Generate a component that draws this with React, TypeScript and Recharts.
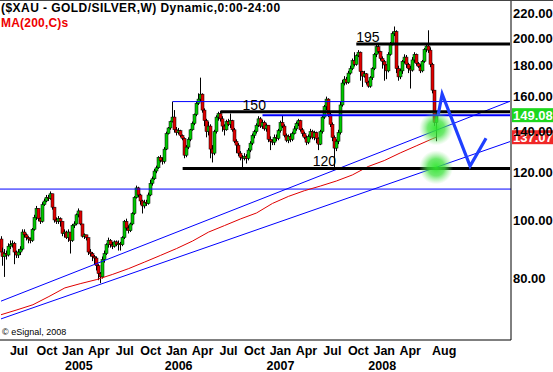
import React from "react";
import {
  ComposedChart,
  Bar,
  Line,
  XAxis,
  YAxis,
  ReferenceLine,
  ReferenceDot,
} from "recharts";

const FONT = '"Liberation Sans", Arial, Helvetica, sans-serif';
const SLOTS = 256; // weekly slots incl. empty space on the right
const Y_MIN = 63.3;
const Y_MAX = 231.2;

// weekly candles (open = previous close)
const FIRST_OPEN = 93;
const closes = [
  88.5, 87, 88, 87.5, 90.5, 91, 91.5, 88.5, 87.5, 88.5,
  89.5, 95.5, 94.5, 93.5, 93, 92.5, 96.5, 101, 104.5, 100.5,
  99.5, 106, 107.5, 109, 108.5, 110.5, 105, 100, 99.5, 100.5,
  99.5, 95, 95.5, 93.5, 95.5, 92.5, 98, 98.5, 102, 103.5,
  98.5, 94, 94.5, 93.5, 88.5, 88, 87, 86.5, 84, 81.5,
  80.5, 86, 88, 91, 92.5, 91, 90.5, 92, 91, 91.5,
  91, 93.5, 99.5, 97, 96, 98.5, 102.5, 109, 113, 110,
  107.5, 105.5, 107, 106.5, 110, 115, 117, 120.5, 122, 127,
  125.5, 125, 131, 139, 142, 145.5, 148, 141, 139.5, 140.5,
  138, 136.5, 128, 132, 136, 141, 144.5, 149.5, 156, 158.5,
  161.5, 152, 146, 140, 143, 131, 129, 140, 148, 150,
  147, 143, 141, 145.5, 144, 146, 141, 135, 133, 129,
  127, 126.5, 127.5, 126.5, 130.5, 134, 138, 140, 143.5, 147,
  143, 145, 141.5, 143.5, 136, 135, 134.5, 137, 136.5, 140.5,
  145, 143, 138, 135.5, 137.5, 136, 139, 141.5, 144.5, 146,
  141, 139, 137, 134.5, 137.5, 140, 137, 139.5, 136.5, 133.5,
  140, 148, 154, 158.5, 149.5, 144, 137, 131.5, 135, 139.5,
  155, 168.5, 171, 169, 175, 178, 183.5, 181, 187, 189.5,
  176, 173, 174.5, 169, 166.5, 172, 178, 188, 193.5, 190,
  185, 183, 180.5, 176.5, 188, 196, 203.5, 205, 178, 172.5,
  176.5, 183, 186, 181, 178, 177, 184, 188, 181.5, 179.5,
  176.5, 183, 191.5, 194, 191, 181, 164, 145, 149.08,
];
const highs = [
  94, 90, 89.5, 89, 91.5, 92.5, 92.5, 92, 89, 89.5,
  90.5, 96.5, 96.5, 95, 94, 93.5, 97, 102, 105.5, 104.5,
  101, 107, 108.5, 110, 110, 111.5, 110.5, 105, 101, 101.5,
  101, 99.5, 96.5, 96, 96.5, 95.5, 98.5, 99.5, 102.5, 104.5,
  103.5, 98.5, 95, 94.5, 93.5, 89.5, 88.5, 87.5, 87, 84.5,
  82, 87, 89, 91.5, 93.5, 93, 92, 92.5, 92.5, 92.5,
  92, 94, 100, 100.5, 98, 99, 103, 109.5, 114, 113.5,
  110.5, 108, 108, 108, 111, 116.5, 118, 121.5, 123, 127.5,
  128, 127, 132, 140, 142.5, 146, 157, 152, 142.5, 142,
  141, 138.5, 137, 133, 137, 141.5, 145.5, 150, 157, 162,
  172, 162, 153, 147, 145.5, 144, 133, 141, 149, 151,
  151.5, 148.5, 144, 146.5, 147, 150, 146.5, 142, 136, 134,
  130, 128, 129, 128.5, 131.5, 135, 139, 141, 144.5, 148.5,
  148, 146.5, 146, 144.5, 143.5, 137.5, 136, 138.5, 138.5, 141.5,
  146, 149, 144, 139, 138.5, 139, 140, 143, 145.5, 147,
  146.5, 142, 140, 138, 138.5, 141.5, 141, 140.5, 140, 137,
  141, 149, 155, 160, 159, 150.5, 145, 138, 136, 141,
  157, 170.5, 173, 172.5, 176.5, 180, 185, 189.5, 188, 191,
  190, 176.5, 176.5, 175, 170, 173, 179, 189, 195.5, 196,
  190.5, 186.5, 184, 181, 189.5, 197, 205, 209, 206, 180,
  178, 184, 188, 187.5, 182, 180, 186, 189.5, 188.5, 182.5,
  181, 184, 192.5, 196, 206, 193, 182, 164, 151,
];
const lows = [
  88, 84, 80.5, 86, 87, 89.5, 90, 84.5, 86.5, 86.5,
  87.5, 89, 93.5, 92.5, 91.5, 91.5, 92, 96, 100, 99.5,
  98.5, 99, 105.5, 107, 107.5, 108, 104, 99, 98.5, 98.5,
  97.5, 94, 93.5, 93, 92, 88, 92, 97, 98, 101,
  98, 93.5, 93, 92.5, 87.5, 87, 85.5, 84.5, 82.5, 79.5,
  78.6, 80, 85, 87.5, 90, 90, 89.5, 90, 90.5, 89,
  89, 90.5, 93, 96, 95, 95.5, 98, 102, 108.5, 109,
  106, 102.5, 104.5, 105.5, 106, 109.5, 114, 116.5, 119.5, 121.5,
  124.5, 123.5, 124, 130.5, 138.5, 141, 145, 139.5, 138, 138.5,
  137, 135.5, 126.5, 127, 131, 135, 140.5, 143.5, 148.5, 155,
  157, 150.5, 143, 137, 138, 126.5, 124.5, 128, 139, 146,
  145.5, 140, 138, 140.5, 143, 142, 140, 134, 129, 127.5,
  125.5, 122, 125.5, 124, 125.5, 129.5, 133, 136.5, 139, 142.5,
  142, 141.5, 140.5, 140, 134.5, 130.5, 133, 133, 135, 135.5,
  139.5, 142, 137, 134.5, 134, 134.5, 135, 138.5, 140.5, 143,
  140, 137.5, 136, 133, 133.5, 136, 136, 135.5, 134, 130.5,
  133, 139, 147, 152, 148, 142.5, 135, 121.5, 130, 133.5,
  138.5, 154, 167, 167.5, 168, 174, 177, 179.5, 180, 186,
  170, 166, 172, 167.5, 165.5, 165.5, 170.5, 177, 186, 188.5,
  183.5, 178, 170, 171, 175.5, 187, 194.5, 201.5, 175, 170,
  171, 174.5, 181.5, 178.5, 175, 165, 176, 182, 180, 178.5,
  175, 175.5, 182, 189.5, 189, 179, 162, 143, 135,
];

// MA(200) read at every 8th week
const maWeeks = [0, 8, 16, 24, 32, 40, 48, 56, 64, 72, 80, 88, 96, 104, 112, 120, 128, 136, 144, 152, 160, 168, 176, 184, 192, 200, 208, 216, 218];
const maValues = [69.7, 71.0, 72.4, 74.7, 77.2, 78.5, 79.7, 81.3, 83.1, 85.2, 87.4, 89.7, 92.3, 95.5, 97.9, 100.4, 102.7, 106.5, 109.4, 111.8, 113.8, 116.0, 118.7, 122.6, 125.4, 129.1, 132.6, 136.2, 137.08];

// hand-drawn projection zigzag
const projWeeks = [219, 221, 235, 243];
const projValues = [149.2, 161.6, 122.8, 136.5];

// trend channel (value at first and last slot)
const upperTrend = [73.4, 157.2];
const lowerTrend = [68.6, 134.8];
const supportLine = 112.5;

// thin blue resistance + last-price line
const blueLevelStart = [86, 131];
const blueLevelValue = [157, 149.08];

// thick black levels with their captions
const levelStart = [178, 110, 91];
const levelValue = [195.5, 151, 121.7];
const levelText = ["195", "150", "120"];

// glow markers
const glowWeek = 218;
const glowValues = [141.8, 122.2];

const LAST_CLOSE = 149.08;
const LAST_MA = 137.077;

const priceTicks = [80, 100, 120, 140, 160, 180, 200, 220];
const monthWeeks = [9, 23, 36, 49, 62, 75, 88, 101, 114, 127, 140, 153, 166, 179, 192, 205, 222];
const monthNames = ["Jul", "Oct", "Jan", "Apr", "Jul", "Oct", "Jan", "Apr", "Jul", "Oct", "Jan", "Apr", "Jul", "Oct", "Jan", "Apr", "Aug"];
const yearWeeks = [39, 89, 140, 191];
const yearNames = ["2005", "2006", "2007", "2008"];

const data = Array.from({ length: SLOTS }, (_, i) => {
  const row: any = { i };
  if (i < closes.length) {
    row.o = i === 0 ? FIRST_OPEN : closes[i - 1];
    row.c = closes[i];
    row.h = highs[i];
    row.l = lows[i];
    row.hl = [lows[i], highs[i]];
  }
  const m = maWeeks.indexOf(i);
  if (m >= 0) row.ma = maValues[m];
  const p = projWeeks.indexOf(i);
  if (p >= 0) row.proj = projValues[p];
  return row;
});

const Candle = (props: any) => {
  const { x, y, width, height, payload } = props;
  if (!payload || payload.h == null) return null;
  const cx = Math.floor(x + width / 2) + 0.5;
  const lh = Math.log(payload.h);
  const ll = Math.log(payload.l);
  // position inside the high-low range on the log axis
  const py = (v: number) =>
    lh === ll ? y : y + (height * (lh - Math.log(v))) / (lh - ll);
  const top = py(Math.max(payload.o, payload.c));
  const bot = py(Math.min(payload.o, payload.c));
  const up = payload.c >= payload.o;
  return (
    <g>
      <line x1={cx} x2={cx} y1={y} y2={y + height} stroke="#000" strokeWidth={1} />
      <rect
        x={cx - 1.5}
        y={top}
        width={3}
        height={Math.max(1, bot - top)}
        fill={up ? "#00c800" : "#e00000"}
        stroke="#000"
        strokeWidth={0.5}
      />
    </g>
  );
};

const Glow = (props: any) => (
  <g>
    <defs>
      <radialGradient id="glowFill">
        <stop offset="0%" stopColor="#2ee62e" stopOpacity={0.95} />
        <stop offset="50%" stopColor="#3ee23e" stopOpacity={0.75} />
        <stop offset="100%" stopColor="#7de87d" stopOpacity={0} />
      </radialGradient>
    </defs>
    <circle cx={props.cx} cy={props.cy} r={17} fill="url(#glowFill)" />
  </g>
);

const MonthTick = (props: any) => {
  const { x, y, payload } = props;
  const mi = monthWeeks.indexOf(payload.value);
  const yi = yearWeeks.indexOf(payload.value);
  if (mi < 0 && yi < 0) return null;
  return (
    <g fontFamily={FONT} fontWeight="bold" fill="#000">
      {mi >= 0 && (
        <text x={x} y={y + 15} textAnchor="middle" fontSize={12.5}>
          {monthNames[mi]}
        </text>
      )}
      {yi >= 0 && (
        <text x={x} y={y + 30} textAnchor="middle" fontSize={12.5}>
          {yearNames[yi]}
        </text>
      )}
    </g>
  );
};

const PriceTick = (props: any) => {
  const { x, y, payload } = props;
  return (
    <text x={x} y={y} dy="0.36em" textAnchor="start" fontFamily={FONT} fontWeight="bold" fontSize={13} fill="#000">
      {Number(payload.value).toFixed(2)}
    </text>
  );
};

const priceTag = (fill: string, text: string) => (p: any) => {
  const vb = p.viewBox || {};
  const x = vb.x + vb.width + 1;
  const y = vb.y;
  return (
    <g>
      <rect x={x} y={y - 7} width={44} height={14} fill={fill} />
      <text x={x + 1} y={y} dy="0.36em" fontFamily={FONT} fontWeight="bold" fontSize={13} fill="#fff">
        {text}
      </text>
    </g>
  );
};

const LEVEL_LABEL_DX = [0, 22, 130];

const levelLabel = (k: number) => (p: any) => {
  const vb = p.viewBox || {};
  return (
    <text x={vb.x + LEVEL_LABEL_DX[k]} y={vb.y - 2} fontFamily={FONT} fontSize={14} fill="#000">
      {levelText[k]}
    </text>
  );
};

export default function App() {
  return (
    <div
      style={{
        position: "absolute",
        left: 0,
        top: 0,
        width: 553,
        height: 372,
        background: "#fff",
        overflow: "hidden",
      }}
    >
      <ComposedChart
        width={553}
        height={372}
        data={data}
        margin={{ top: 0, right: 0, bottom: 0, left: 0 }}
        barCategoryGap={0}
      >
        <XAxis
          dataKey="i"
          type="category"
          interval={0}
          height={32}
          tickLine={false}
          tickSize={0}
          tickMargin={0}
          axisLine={{ stroke: "#000" }}
          tick={<MonthTick />}
        />
        <YAxis
          orientation="right"
          width={42}
          type="number"
          scale="log"
          domain={[Y_MIN, Y_MAX]}
          allowDataOverflow
          ticks={priceTicks}
          tickLine={false}
          tickSize={0}
          tickMargin={2}
          axisLine={{ stroke: "#000" }}
          tick={<PriceTick />}
        />

        {glowValues.map((v, k) => (
          <ReferenceDot key={`g${k}`} x={glowWeek} y={v} r={17} shape={Glow} />
        ))}

        <ReferenceLine y={supportLine} stroke="#0000ff" strokeWidth={1} />
        <ReferenceLine
          segment={[{ x: 0, y: upperTrend[0] }, { x: SLOTS - 1, y: upperTrend[1] }]}
          stroke="#0000ff"
          strokeWidth={1}
        />
        <ReferenceLine
          segment={[{ x: 0, y: lowerTrend[0] }, { x: SLOTS - 1, y: lowerTrend[1] }]}
          stroke="#0000ff"
          strokeWidth={1}
        />
        {blueLevelStart.map((s, k) => (
          <ReferenceLine
            key={`b${k}`}
            segment={[{ x: s, y: blueLevelValue[k] }, { x: SLOTS - 1, y: blueLevelValue[k] }]}
            stroke="#0000ff"
            strokeWidth={k === 1 ? 2 : 1}
          />
        ))}

        <Line
          dataKey="ma"
          stroke="#e00000"
          strokeWidth={1}
          dot={false}
          connectNulls
          isAnimationActive={false}
        />
        <Bar dataKey="hl" shape={Candle} isAnimationActive={false} />

        {levelStart.map((s, k) => (
          <ReferenceLine
            key={`l${k}`}
            segment={[{ x: s, y: levelValue[k] }, { x: SLOTS - 1, y: levelValue[k] }]}
            stroke="#000"
            strokeWidth={3}
            label={{ content: levelLabel(k) }}
          />
        ))}

        <Line
          dataKey="proj"
          stroke="#1f3fff"
          strokeWidth={3.2}
          strokeLinejoin="miter"
          dot={false}
          connectNulls
          isAnimationActive={false}
        />

        <ReferenceLine y={LAST_CLOSE} stroke="none" label={{ content: priceTag("#1cd81c", "149.08") }} />
        <ReferenceLine y={LAST_MA} stroke="none" label={{ content: priceTag("#f02828", "137.077") }} />
      </ComposedChart>

      <div style={{ position: "absolute", left: 0, top: 0, width: 553, height: 1, background: "#444" }} />
      <div
        style={{
          position: "absolute",
          left: 1,
          top: 1,
          fontFamily: FONT,
          fontWeight: "bold",
          fontSize: 12,
          letterSpacing: 0.45,
          color: "#000",
          whiteSpace: "nowrap",
        }}
      >
        ($XAU - GOLD/SILVER,W) Dynamic,0:00-24:00
      </div>
      <div
        style={{
          position: "absolute",
          left: 1,
          top: 16,
          fontFamily: FONT,
          fontWeight: "bold",
          fontSize: 12,
          letterSpacing: 0.2,
          color: "#ee0000",
          whiteSpace: "nowrap",
        }}
      >
        MA(200,C)s
      </div>
      <div
        style={{
          position: "absolute",
          left: 2,
          top: 327,
          fontFamily: FONT,
          fontSize: 9,
          color: "#000",
          whiteSpace: "nowrap",
        }}
      >
        © eSignal, 2008
      </div>
    </div>
  );
}
